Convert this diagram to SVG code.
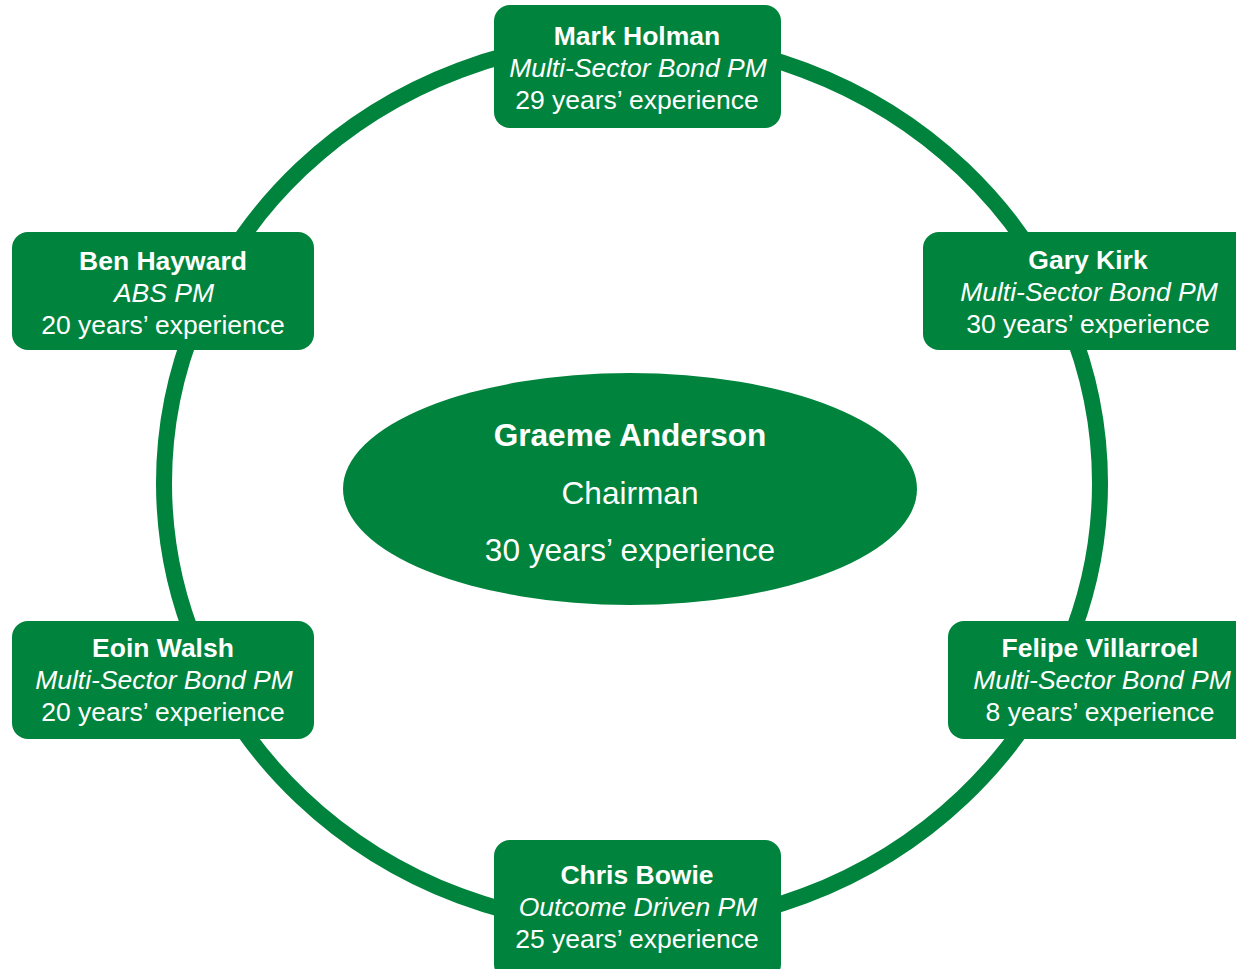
<svg xmlns="http://www.w3.org/2000/svg" width="1236" height="969" viewBox="0 0 1236 969">
<style>
.box{fill:#00843D}
.t{font-family:"Liberation Sans",Arial,sans-serif;fill:#fff;text-anchor:middle;font-size:26.5px}
.b{font-weight:bold}
.i{font-style:italic}
.c{font-family:"Liberation Sans",Arial,sans-serif;fill:#fff;text-anchor:middle;font-size:31.6px}
</style>
<rect width="1236" height="969" fill="#fff"/>
<g id="connectors">
<ellipse cx="632" cy="483" rx="468" ry="444" fill="none" stroke="#00843D" stroke-width="16"/>
</g>
<g id="mark-holman">
<rect class="box" x="494" y="5" width="287" height="123" rx="16"/>
<text class="t b" x="637" y="45">Mark Holman</text>
<text class="t i" x="638" y="77">Multi-Sector Bond PM</text>
<text class="t" x="637" y="109">29 years’ experience</text>
</g>
<g id="ben-hayward">
<rect class="box" x="12" y="232" width="302" height="118" rx="16"/>
<text class="t b" x="163" y="270">Ben Hayward</text>
<text class="t i" x="164" y="302">ABS PM</text>
<text class="t" x="163" y="334">20 years’ experience</text>
</g>
<g id="gary-kirk">
<rect class="box" x="923" y="232" width="330" height="118" rx="16"/>
<text class="t b" x="1088" y="269">Gary Kirk</text>
<text class="t i" x="1089" y="301">Multi-Sector Bond PM</text>
<text class="t" x="1088" y="333">30 years’ experience</text>
</g>
<g id="eoin-walsh">
<rect class="box" x="12" y="621" width="302" height="118" rx="16"/>
<text class="t b" x="163" y="657">Eoin Walsh</text>
<text class="t i" x="164" y="689">Multi-Sector Bond PM</text>
<text class="t" x="163" y="721">20 years’ experience</text>
</g>
<g id="felipe-villarroel">
<rect class="box" x="948" y="621" width="310" height="118" rx="16"/>
<text class="t b" x="1100" y="657">Felipe Villarroel</text>
<text class="t i" x="1102" y="689">Multi-Sector Bond PM</text>
<text class="t" x="1100" y="721">8 years’ experience</text>
</g>
<g id="chris-bowie">
<rect class="box" x="494" y="840" width="287" height="140" rx="16"/>
<text class="t b" x="637" y="884">Chris Bowie</text>
<text class="t i" x="638" y="916">Outcome Driven PM</text>
<text class="t" x="637" y="948">25 years’ experience</text>
</g>
<g id="graeme-anderson">
<ellipse class="box" cx="630" cy="489" rx="287" ry="116"/>
<text class="c b" x="630" y="446">Graeme Anderson</text>
<text class="c" x="630" y="504">Chairman</text>
<text class="c" x="630" y="561">30 years’ experience</text>
</g>
</svg>
